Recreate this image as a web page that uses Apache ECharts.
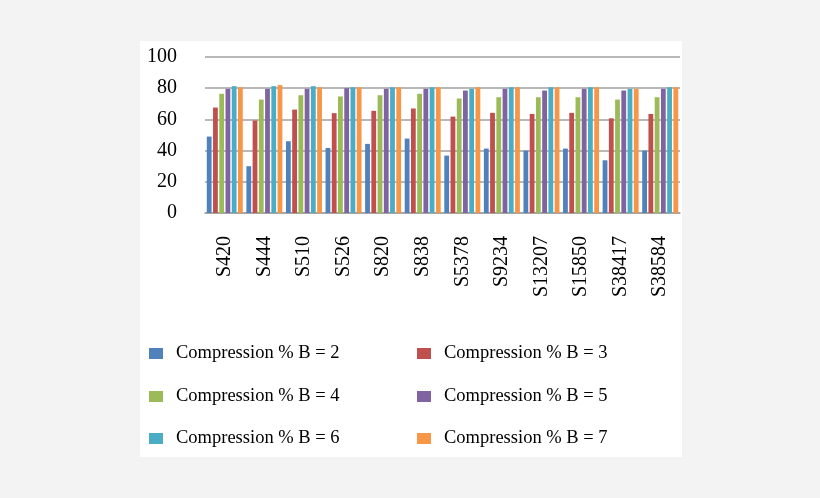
<html>
<head>
<meta charset="utf-8">
<script src="https://cdn.jsdelivr.net/npm/echarts@6/dist/echarts.min.js"></script>
<style>
html, body { margin: 0; padding: 0; background: #f3f3f3; }
#chart { width: 820px; height: 498px; }
</style>
</head>
<body>
<div id="chart"></div>
<script>
var circuits = ['S420', 'S444', 'S510', 'S526', 'S820', 'S838', 'S5378', 'S9234', 'S13207', 'S15850', 'S38417', 'S38584'];
var seriesNames = ['Compression % B = 2', 'Compression % B = 3', 'Compression % B = 4',
                   'Compression % B = 5', 'Compression % B = 6', 'Compression % B = 7'];
var b2 = [49, 30, 46, 41.7, 44.3, 47.7, 36.8, 41.3, 40, 41.3, 33.8, 40];
var b3 = [67.6, 59.3, 66.3, 64, 65.5, 67, 61.8, 64.2, 63.5, 64.2, 60.7, 63.5];
var b4 = [76.4, 72.7, 75.5, 74.7, 75.5, 76.4, 73.4, 74.2, 74.2, 74.2, 72.7, 74.2];
var b5 = [79.6, 79.6, 79.6, 80, 79.6, 79.6, 78.5, 79.6, 78.5, 79.6, 78.5, 79.6];
var b6 = [81.3, 81.3, 81.3, 80.6, 80.6, 80.6, 79.6, 80.6, 80.6, 80.6, 79.6, 80.6];
var b7 = [80.6, 82, 80.6, 80.6, 80.6, 80.6, 80.6, 80.6, 80.6, 80.6, 79.6, 80.6];
var yTicks = [0, 20, 40, 60, 80, 100];

var colors = ['#4F81BD', '#C0504D', '#9BBB59', '#8064A2', '#4BACC6', '#F79646'];
var allData = [b2, b3, b4, b5, b6, b7];

var chart = echarts.init(document.getElementById('chart'));

var series = [];
for (var i = 0; i < allData.length; i++) {
    series.push({
        name: seriesNames[i],
        type: 'bar',
        data: allData[i],
        barWidth: 4.8,
        barGap: '30%',
        itemStyle: { color: colors[i] }
    });
}

// one legend per entry so the 2x3 layout lines up like the picture
var legendPos = [[149, 344], [417, 344], [149, 387], [417, 387], [149, 429], [417, 429]];
var legends = [];
for (var j = 0; j < seriesNames.length; j++) {
    legends.push({
        data: [seriesNames[j]],
        left: legendPos[j][0],
        top: legendPos[j][1],
        padding: 0,
        icon: 'rect',
        itemWidth: 14,
        itemHeight: 11,
        textStyle: {
            fontFamily: 'Liberation Serif',
            fontSize: 18.5,
            color: '#000',
            padding: [0, 0, 0, 8]
        }
    });
}

var option = {
    backgroundColor: '#f3f3f3',
    animation: false,
    color: colors,
    graphic: [{
        type: 'rect',
        z: -10,
        shape: { x: 140, y: 41, width: 542, height: 416 },
        style: { fill: '#ffffff' }
    }],
    legend: legends,
    grid: {
        left: 205,
        right: 140,
        top: 57,
        bottom: 285
    },
    xAxis: {
        type: 'category',
        data: circuits,
        axisLine: { lineStyle: { color: '#a0a0a0', width: 1.5 } },
        axisTick: { show: false },
        axisLabel: {
            rotate: 90,
            margin: 23,
            fontFamily: 'Liberation Serif',
            fontSize: 20,
            color: '#000',
            interval: 0
        }
    },
    yAxis: {
        type: 'value',
        min: yTicks[0],
        max: yTicks[yTicks.length - 1],
        interval: 20,
        axisLine: { show: false },
        axisTick: { show: false },
        splitLine: { lineStyle: { color: '#a0a0a0', width: 1.5 } },
        axisLabel: {
            margin: 28,
            fontFamily: 'Liberation Serif',
            fontSize: 20,
            color: '#000'
        }
    },
    series: series
};

chart.setOption(option);
</script>
</body>
</html>
